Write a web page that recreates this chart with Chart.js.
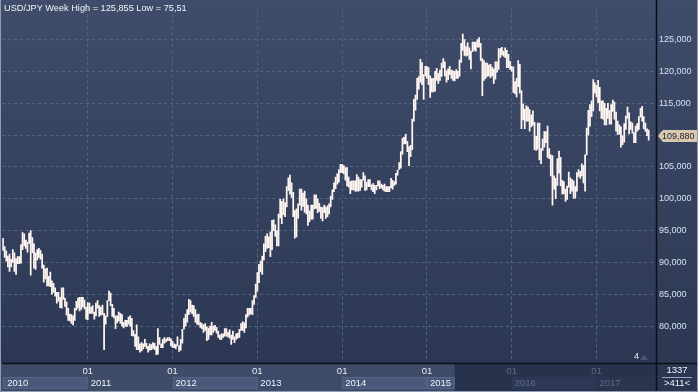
<!DOCTYPE html>
<html>
<head>
<meta charset="utf-8">
<script src="https://cdn.jsdelivr.net/npm/chart.js@4.4.1/dist/chart.umd.min.js"></script>
<style>
  html, body { margin: 0; padding: 0; background: #34405c; }
  #wrap { width: 698px; height: 392px; position: relative; }
</style>
</head>
<body>
<div id="wrap"><canvas id="usdjpy"></canvas></div>
<script>
// weekly bars, [low, high], one row per year
const w2010 = [
  [91.9,93.8],[90.8,92.5],[90.2,91.8],[89.3,91.0],[88.6,91.3],[89.3,90.5],[90.0,92.0],[88.6,91.5],
  [88.1,90.6],[89.8,90.9],[89.8,90.9],[89.9,92.8],[92.0,94.7],[92.6,94.5],[92.2,93.5],[91.6,93.2],
  [93.0,94.6],[88.0,95.0],[91.5,93.9],[89.1,92.9],[88.9,91.5],[90.4,92.0],[90.8,92.2],[90.5,91.9],
  [89.1,91.3],[86.9,89.6],[87.4,89.0],[86.3,89.1],[86.3,87.8],[86.2,88.5],[85.0,87.1],[85.3,86.7],
  [84.7,86.0],[83.6,85.3],[83.9,85.3],[82.9,84.5],[82.8,86.0],[84.2,86.0],[83.1,84.4],[81.7,83.8],
  [80.9,82.8],[80.8,81.9],[80.4,81.8],[80.2,81.6],[80.9,82.8],[82.5,83.9],[82.8,84.4],[82.4,84.5],
  [82.6,84.5],[83.0,84.5],[82.7,84.1],[81.1,83.0]
];
const w2011 = [
  [81.0,83.7],[82.0,83.6],[82.0,83.0],[82.0,83.2],[81.1,82.2],[81.6,83.6],[82.8,84.0],[81.5,83.2],
  [81.7,83.0],[81.8,83.3],[76.3,82.0],[80.3,81.6],[81.5,84.0],[84.0,85.5],[83.2,85.2],[81.5,83.4],
  [81.3,82.8],[79.6,81.6],[80.5,81.6],[80.8,82.2],[80.4,82.0],[80.0,81.8],[79.7,80.6],[80.0,80.9],
  [79.9,80.9],[80.3,81.4],[80.0,81.6],[78.5,81.2],[78.4,79.3],[76.8,78.7],[76.3,80.2],[76.3,78.3],
  [75.9,77.2],[76.1,77.4],[76.4,77.2],[76.8,77.9],[76.5,77.3],[75.9,76.8],[76.2,77.2],[76.3,77.1],
  [76.5,77.4],[76.3,77.3],[75.5,76.8],[75.6,79.6],[77.1,78.2],[76.6,77.2],[76.6,77.9],[77.3,78.2],
  [77.5,78.0],[77.7,78.2],[77.7,78.2],[76.9,78.0]
];
const w2012 = [
  [76.6,77.6],[76.6,77.2],[76.4,77.1],[76.9,78.3],[76.0,76.9],[76.2,77.9],[77.3,79.5],[79.5,81.2],
  [80.0,81.9],[80.6,82.6],[81.8,84.2],[82.2,84.0],[81.9,83.3],[81.5,83.2],[80.6,82.6],[80.3,81.8],
  [80.2,81.9],[79.8,80.6],[79.6,80.4],[79.0,80.2],[79.3,80.4],[77.7,79.9],[77.9,79.7],[78.6,80.0],
  [78.6,80.6],[79.0,80.0],[79.3,80.1],[78.9,79.8],[78.2,79.2],[77.9,78.6],[77.9,78.8],[78.2,78.8],
  [78.4,79.6],[78.4,79.6],[78.3,79.0],[78.1,79.4],[77.1,78.6],[77.9,79.2],[77.4,78.3],[77.9,78.8],
  [78.1,78.9],[78.2,79.5],[79.3,80.4],[79.3,80.7],[79.0,80.5],[79.7,81.8],[81.4,82.8],[81.7,82.8],
  [81.9,82.8],[81.8,84.0],[83.4,84.8],[84.5,86.6]
];
const w2013 = [
  [85.5,88.4],[86.8,89.7],[88.5,90.2],[88.1,91.0],[90.4,92.9],[91.7,94.1],[92.2,94.5],[92.3,94.0],
  [90.9,94.8],[92.0,96.6],[95.0,96.7],[94.1,95.9],[92.6,95.0],[92.6,97.6],[97.0,99.9],[96.1,99.6],
  [97.5,100.0],[97.2,99.4],[98.7,101.9],[101.3,103.3],[100.7,103.7],[100.2,102.5],[97.2,101.0],[93.8,98.2],
  [94.0,98.4],[96.9,99.2],[99.0,101.5],[98.2,101.5],[98.8,100.9],[97.9,101.2],[97.6,100.0],[95.8,99.0],
  [96.4,98.1],[96.8,99.0],[96.8,99.0],[98.4,100.6],[98.5,100.6],[97.8,100.0],[98.0,99.3],[96.9,98.7],
  [96.5,98.6],[97.8,99.0],[96.9,98.7],[97.2,98.9],[97.6,99.2],[98.7,100.4],[99.9,101.4],[101.1,102.5],
  [101.6,103.4],[102.3,103.9],[102.6,104.6],[104.1,105.4]
];
const w2014 = [
  [104.1,105.4],[103.9,105.2],[102.9,104.9],[102.0,104.9],[101.8,103.4],[100.8,102.7],[101.4,102.8],[101.4,102.8],
  [101.2,102.8],[101.2,103.8],[101.2,103.4],[101.3,103.0],[101.8,103.0],[102.9,104.1],[101.3,103.6],[101.4,102.6],
  [101.9,103.0],[101.9,103.0],[101.4,102.2],[101.1,102.4],[100.8,102.1],[101.4,102.1],[102.0,102.8],[101.6,102.8],
  [101.7,102.3],[101.4,102.1],[101.2,102.3],[101.1,101.9],[101.1,101.9],[101.1,101.9],[101.7,103.2],[101.5,102.9],
  [102.1,102.7],[102.3,104.0],[103.7,104.5],[104.6,105.7],[104.8,107.4],[107.0,109.5],[108.6,109.7],[108.6,110.1],
  [107.4,109.0],[105.2,108.2],[106.6,108.4],[107.7,112.5],[112.2,115.6],[113.9,116.3],[115.6,118.9],[117.2,119.2],
  [118.3,121.9],[117.9,121.4],[115.6,119.5],[119.3,120.8]
];
const w2015 = [
  [118.9,120.8],[117.9,120.6],[115.9,119.3],[116.8,118.9],[116.8,118.9],[116.9,120.0],[118.6,120.5],[118.1,119.7],
  [118.6,120.2],[119.2,121.3],[120.6,122.0],[119.3,121.5],[118.3,120.1],[118.7,120.4],[119.5,120.8],[118.9,120.2],
  [118.6,120.1],[118.5,120.0],[118.9,120.3],[118.9,120.0],[119.2,121.8],[121.4,124.4],[123.3,125.86],[122.5,125.0],
  [122.4,123.9],[122.5,124.5],[121.9,123.7],[120.4,123.2],[123.1,124.6],[123.3,124.6],[123.2,124.6],[123.8,125.0],
  [123.8,125.3],[121.7,124.4],[116.2,122.0],[118.6,121.7],[118.9,121.3],[119.2,121.3],[119.3,121.0],[119.0,121.1],
  [119.3,120.7],[118.1,120.4],[118.8,121.5],[119.9,121.5],[120.3,123.6],[122.2,123.6],[122.6,123.8],[122.4,123.2],
  [122.2,123.7],[120.6,123.3],[120.6,122.7],[120.3,121.6]
];
const w2016 = [
  [120.0,120.8],[116.7,120.7],[116.5,118.4],[116.0,118.9],[117.6,121.7],[116.6,121.1],[111.0,117.0],[112.4,114.9],
  [111.0,114.1],[112.2,114.6],[112.2,114.4],[110.6,114.0],[111.3,113.2],[111.5,113.8],[107.7,112.0],[107.6,109.8],
  [107.8,111.9],[106.1,111.9],[105.5,107.9],[107.6,109.4],[108.1,110.6],[108.8,110.5],[106.5,111.4],[106.3,107.9],
  [103.6,106.9],[99.0,106.8],[101.5,103.6],[100.0,103.2],[102.1,106.3],[104.0,107.5],[102.0,106.5],[100.7,102.9],
  [100.8,102.7],[99.6,101.5],[99.9,102.0],[101.8,104.2],[100.8,103.3],[101.2,103.0],[100.1,102.8],[100.1,101.9],
  [101.2,104.1],[103.5,104.6],[103.2,104.3],[103.6,105.5],[102.5,105.2],[101.2,106.9],[106.9,111.1],[110.0,113.9],
  [111.4,114.8],[112.9,115.4],[113.8,118.7],[116.6,118.2]
];
const w2017 = [
  [116.0,117.8],[115.1,118.6],[113.8,117.5],[112.6,115.4],[112.5,115.4],[111.6,115.0],[111.6,114.2],[112.6,115.0],
  [111.7,113.9],[111.7,114.8],[113.7,115.5],[112.5,115.2],[110.6,113.6],[110.1,112.2],[110.1,111.6],[108.1,111.3],
  [108.5,109.9],[108.9,111.8],[110.9,113.0],[112.6,114.4],[110.2,113.5],[110.9,112.1],[110.3,111.9],[108.8,110.4],
  [108.8,111.4],[110.6,111.8],[110.9,112.9],[112.8,114.2],[112.2,114.5],[111.0,112.9],[110.6,111.9],[109.9,111.0],
  [109.2,110.8]
];

const yearNames = ['2010', '2011', '2012', '2013', '2014', '2015', '2016', '2017'];
const yearStarts = [0, 52, 104, 156, 208, 260, 312, 364];
const yTicks = [80, 85, 90, 95, 100, 105, 110, 115, 120, 125];
const lastPrice = 109.88;
const lastPriceText = '109,880';
const titleText = 'USD/JPY Week High = 125,855 Low = 75,51';
const emptyWeeks = 4;      // blank space right of the last bar
const navStartWeek = 277;  // start of the dark navigator part of the time axis

const bars = [].concat(w2010, w2011, w2012, w2013, w2014, w2015, w2016, w2017);
const weekLabels = [];
for (let i = 0; i < bars.length + emptyWeeks; i++) {
  const d = new Date(Date.UTC(2010, 0, 4 + 7 * i));
  weekLabels.push(d.toISOString().split('T')[0]);
}
const barData = bars.concat(new Array(emptyWeeks).fill(null));

const FONT = '"Liberation Sans", Arial, sans-serif';

// background, axis band, year boxes and the extra texts
const decor = {
  id: 'decor',
  beforeDraw(chart) {
    const { ctx, chartArea: a, scales } = chart;
    const x = scales.x;
    const W = chart.width, H = chart.height;
    ctx.save();
    const g = ctx.createLinearGradient(0, 0, 0, H);
    g.addColorStop(0, '#3f4c6a');
    g.addColorStop(1, '#2a3651');
    ctx.fillStyle = g;
    ctx.fillRect(0, 0, W, H);

    // time axis band
    ctx.fillStyle = '#3e4b69';
    ctx.fillRect(0, a.bottom, a.right, H - a.bottom);
    const navX = x.getPixelForValue(navStartWeek);
    ctx.fillStyle = '#27334d';
    ctx.fillRect(navX, a.bottom, a.right - navX, H - a.bottom);

    // year boxes
    yearStarts.forEach((s, i) => {
      const l = i === 0 ? a.left + 1 : x.getPixelForTick(s);
      const x1 = i + 1 < yearStarts.length ? x.getPixelForTick(yearStarts[i + 1]) : a.right;
      if (l >= navX) {
        ctx.fillStyle = i % 2 === 0 ? '#2d3954' : '#2a3650';
        ctx.fillRect(l, a.bottom + 14, x1 - l, 12);
      } else {
        const r = Math.min(x1, navX);
        if (i % 2 === 0 || r === navX) {
          ctx.fillStyle = '#4a5979';
          ctx.fillRect(l, a.bottom + 14, r - l, 12);
          ctx.strokeStyle = '#56658a';
          ctx.lineWidth = 1;
          ctx.strokeRect(Math.round(l) + 0.5, a.bottom + 14.5, r - l - 1, 11);
        }
      }
    });
    ctx.restore();
  },
  afterDraw(chart) {
    const { ctx, chartArea: a, scales } = chart;
    const x = scales.x, y = scales.y;
    const W = chart.width, H = chart.height;
    const navX = x.getPixelForValue(navStartWeek);
    ctx.save();

    // year names
    ctx.font = '9.5px ' + FONT;
    ctx.textBaseline = 'middle';
    ctx.textAlign = 'left';
    yearStarts.forEach((s, i) => {
      const x0 = i === 0 ? a.left + 5 : x.getPixelForTick(s) + 3;
      ctx.fillStyle = x0 >= navX ? '#5c6b88' : '#eef2f8';
      ctx.fillText(yearNames[i], x0, a.bottom + 20.5);
    });

    // frame lines
    ctx.strokeStyle = '#0b0f18';
    ctx.lineWidth = 1.5;
    ctx.beginPath();
    ctx.moveTo(a.left, a.bottom + 0.5);
    ctx.lineTo(W, a.bottom + 0.5);
    ctx.moveTo(a.right + 0.5, 0);
    ctx.lineTo(a.right + 0.5, H);
    ctx.stroke();

    // title
    ctx.fillStyle = '#f2f5fa';
    ctx.font = '9.2px ' + FONT;
    ctx.fillText(titleText, 4, 8);

    // last price tag
    const py = Math.round(y.getPixelForValue(lastPrice));
    ctx.fillStyle = '#d8c9ad';
    ctx.beginPath();
    ctx.moveTo(a.right + 2, py);
    ctx.lineTo(a.right + 7, py - 6);
    ctx.lineTo(W - 1, py - 6);
    ctx.lineTo(W - 1, py + 6);
    ctx.lineTo(a.right + 7, py + 6);
    ctx.closePath();
    ctx.fill();
    ctx.fillStyle = '#1c2030';
    ctx.font = '9px ' + FONT;
    ctx.fillText(lastPriceText, a.right + 6, py + 0.5);

    // small marker near the corner
    ctx.fillStyle = '#eef2f8';
    ctx.fillText('4', a.right - 22, a.bottom - 6);
    ctx.fillStyle = '#4b5873';
    ctx.beginPath();
    ctx.moveTo(a.right - 16, a.bottom - 3);
    ctx.lineTo(a.right - 12, a.bottom - 8);
    ctx.lineTo(a.right - 8, a.bottom - 3);
    ctx.closePath();
    ctx.fill();

    // bottom right box
    const cx = (a.right + W) / 2;
    ctx.textAlign = 'center';
    ctx.fillStyle = '#eef2f8';
    ctx.font = '9.5px ' + FONT;
    ctx.fillText('1337', cx, a.bottom + 7.5);
    ctx.fillText('>411<', cx, a.bottom + 20.5);
    ctx.strokeStyle = '#9aa8c0';
    ctx.lineWidth = 1;
    ctx.beginPath();
    ctx.moveTo(a.right + 6, a.bottom + 14.5);
    ctx.lineTo(W - 6, a.bottom + 14.5);
    ctx.stroke();

    // outer border
    ctx.strokeStyle = '#8e9cb4';
    ctx.beginPath();
    ctx.moveTo(0.5, 0);
    ctx.lineTo(0.5, H - 0.5);
    ctx.lineTo(W - 0.5, H - 0.5);
    ctx.lineTo(W - 0.5, 0);
    ctx.stroke();
    ctx.restore();
  }
};

new Chart(document.getElementById('usdjpy'), {
  type: 'bar',
  data: {
    labels: weekLabels,
    datasets: [{
      data: barData,
      backgroundColor: '#fff6f2',
      borderWidth: 0,
      barThickness: 1.1
    }]
  },
  options: {
    responsive: true,
    maintainAspectRatio: false,
    devicePixelRatio: 1,
    animation: false,
    layout: { padding: { left: 2, right: 0, top: 0, bottom: 0 } },
    plugins: {
      legend: { display: false },
      tooltip: { enabled: false }
    },
    scales: {
      x: {
        afterFit: (scale) => { scale.height = 29; },
        grid: {
          offset: false,
          drawTicks: false,
          color: (c) => (c.index !== undefined && yearStarts.includes(c.index) && c.index > 0) ? '#56657f' : 'transparent',
          lineWidth: 1
        },
        border: { display: false, dash: [3, 3] },
        ticks: {
          autoSkip: false,
          maxRotation: 0,
          minRotation: 0,
          padding: 3,
          font: { family: FONT, size: 9.5 },
          color: (c) => c.index >= navStartWeek ? '#5c6b88' : '#e6ecf5',
          callback: (v, i) => (yearStarts.includes(i) && i > 0) ? '01' : ''
        }
      },
      y: {
        position: 'right',
        min: 74.2,
        max: 129.9,
        afterFit: (scale) => { scale.width = 42; },
        afterBuildTicks: (scale) => { scale.ticks = yTicks.map((v) => ({ value: v })); },
        grid: { drawTicks: false, color: '#56657f', lineWidth: 1 },
        border: { display: false, dash: [3, 3] },
        ticks: {
          padding: 3,
          font: { family: FONT, size: 9 },
          color: '#d4e2f4',
          callback: (v) => v + ',000'
        }
      }
    }
  },
  plugins: [decor]
});
</script>
</body>
</html>
